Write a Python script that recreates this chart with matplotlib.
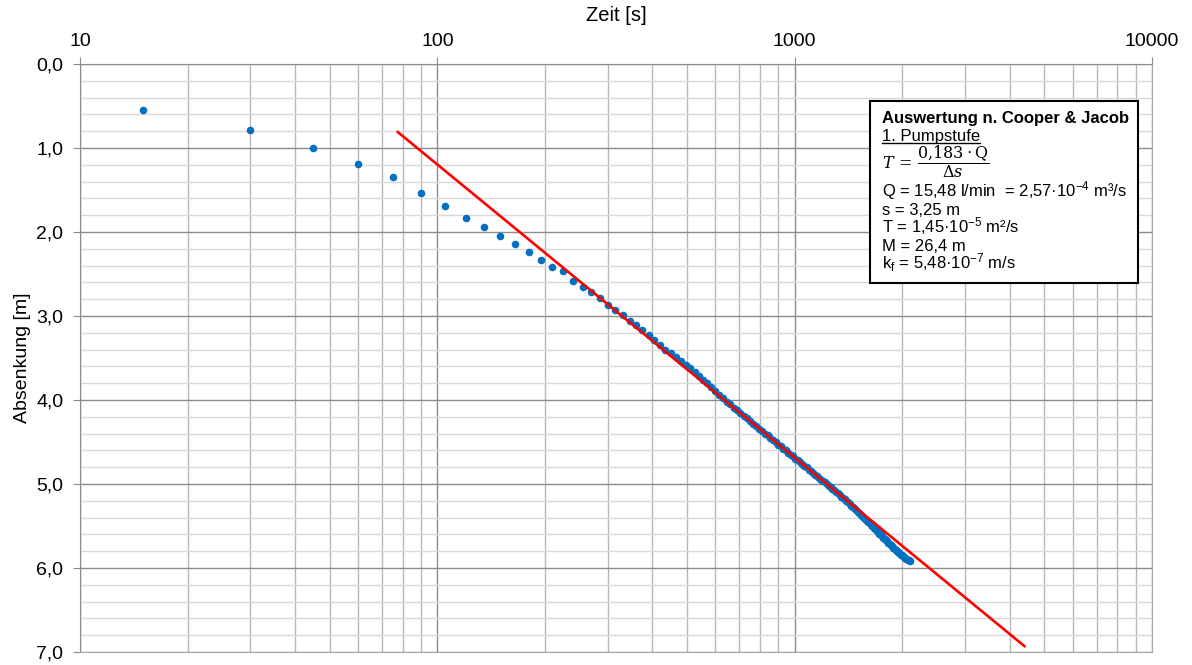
import numpy as np
import matplotlib
matplotlib.use("Agg")
import matplotlib.pyplot as plt
from matplotlib.ticker import FixedLocator, FuncFormatter, NullFormatter
from matplotlib.lines import Line2D

plt.rcParams['font.family'] = ['Liberation Sans', 'DejaVu Sans']
plt.rcParams['mathtext.fontset'] = 'custom'
plt.rcParams['mathtext.rm'] = 'Liberation Sans'
plt.rcParams['mathtext.it'] = 'Liberation Sans:italic'
plt.rcParams['mathtext.bf'] = 'Liberation Sans:bold'

# Messwerte: Zeit [s] und Absenkung [m], Ablesung alle 15 s
zeit = np.arange(15, 2101, 15)
absenkung = [
    0.55, 0.79, 1.00, 1.19, 1.35, 1.54, 1.69, 1.83, 1.94, 2.05,
    2.14, 2.24, 2.33, 2.42, 2.47, 2.58, 2.65, 2.72, 2.79, 2.87,
    2.93, 2.99, 3.06, 3.11, 3.17, 3.23, 3.29, 3.34, 3.40, 3.44,
    3.49, 3.54, 3.58, 3.62, 3.67, 3.71, 3.76, 3.80, 3.85, 3.89,
    3.94, 3.98, 4.02, 4.05, 4.09, 4.12, 4.16, 4.19, 4.22, 4.25,
    4.28, 4.31, 4.34, 4.37, 4.40, 4.42, 4.45, 4.48, 4.50, 4.53,
    4.55, 4.58, 4.60, 4.63, 4.65, 4.67, 4.70, 4.72, 4.74, 4.76,
    4.78, 4.80, 4.83, 4.85, 4.87, 4.89, 4.91, 4.93, 4.95, 4.96,
    4.98, 5.00, 5.02, 5.04, 5.06, 5.07, 5.09, 5.11, 5.13, 5.15,
    5.17, 5.18, 5.20, 5.22, 5.24, 5.26, 5.27, 5.29, 5.31, 5.33,
    5.35, 5.37, 5.38, 5.40, 5.42, 5.44, 5.45, 5.47, 5.49, 5.50,
    5.52, 5.54, 5.56, 5.57, 5.59, 5.60, 5.62, 5.64, 5.65, 5.67,
    5.68, 5.70, 5.71, 5.73, 5.74, 5.76, 5.77, 5.78, 5.80, 5.81,
    5.82, 5.84, 5.85, 5.86, 5.87, 5.88, 5.89, 5.90, 5.91, 5.92,
]

# Ausgleichsgerade (Cooper & Jacob), Endpunkte
gerade_t = [77.5, 4395]
gerade_s = [0.81, 6.93]

info_titel = "Auswertung n. Cooper & Jacob"
info_stufe = "1. Pumpstufe"
info_formel = r"$T\,=\,\dfrac{0{,}183\cdot\mathrm{Q}}{\Delta s}$"
info_zeilen = [
    "Q = 15,48 l/min  = 2,57·10$^{-4}$ m³/s",
    "s = 3,25 m",
    "T = 1,45·10$^{-5}$ m²/s",
    "M = 26,4 m",
    "k$_\\mathrm{f}$ = 5,48·10$^{-7}$ m/s",
]

fig = plt.figure(figsize=(11.92, 6.65), dpi=100)
ax = fig.add_axes([80 / 1192, 13 / 665, 1072 / 1192, 588 / 665])

ax.set_xscale('log')
ax.set_xlim(10, 10000)
ax.set_ylim(7, 0)

# Gitter
ax.xaxis.set_major_locator(FixedLocator([10, 100, 1000, 10000]))
ax.xaxis.set_minor_locator(FixedLocator(
    [m * d for d in (10, 100, 1000) for m in range(2, 10)]))
ax.xaxis.set_minor_formatter(NullFormatter())
ax.xaxis.set_major_formatter(FuncFormatter(lambda v, p: f"{v:.0f}"))
ax.yaxis.set_major_locator(FixedLocator(np.arange(0, 7.01, 1.0)))
ax.yaxis.set_minor_locator(FixedLocator(np.arange(0, 7.01, 0.2)))
ax.yaxis.set_major_formatter(FuncFormatter(lambda v, p: f"{v:.1f}".replace('.', ',')))

ax.grid(which='major', axis='x', color='#8c8c8c', lw=1.0)
ax.grid(which='minor', axis='x', color='#b8b8b8', lw=1.0)
ax.grid(which='major', axis='y', color='#8c8c8c', lw=1.0)
ax.grid(which='minor', axis='y', color='#d9d9d9', lw=1.0)
ax.set_axisbelow(True)

ax.xaxis.tick_top()
ax.xaxis.set_label_position('top')
ax.tick_params(which='major', length=5, color='#8c8c8c', labelsize=14, pad=5)
ax.tick_params(which='minor', length=0)
ax.tick_params(axis='y', pad=7)
for side in ('left', 'top'):
    ax.spines[side].set_color('#8c8c8c')
for side in ('right', 'bottom'):
    ax.spines[side].set_color('#a6a6a6')

ax.set_xlabel("Zeit [s]", fontsize=14.5, labelpad=9)
ax.set_ylabel("Absenkung [m]", fontsize=14, labelpad=4)

ax.scatter(zeit, absenkung, s=30, color='#0070C0', zorder=3, linewidths=0)
ax.plot(gerade_t, gerade_s, color='#FF0000', lw=1.9, zorder=4)

# Infobox
box = plt.Rectangle((0.737, 0.628), 0.250, 0.309, transform=ax.transAxes,
                    facecolor='white', edgecolor='black', lw=1.5, zorder=5)
ax.add_patch(box)
x0 = 0.748
ax.text(x0, 0.8997, info_titel, transform=ax.transAxes, fontsize=12,
        fontweight='bold', va='baseline', zorder=6)
stufe = ax.text(x0, 0.869, info_stufe, transform=ax.transAxes, fontsize=12,
                va='baseline', zorder=6)
ax.text(x0, 0.834, info_formel, transform=ax.transAxes, fontsize=11.5,
        va='center', zorder=6, math_fontfamily='dejavuserif')
y = 0.774
for zeile in info_zeilen:
    ax.text(x0, y, zeile, transform=ax.transAxes, fontsize=12,
            va='baseline', zorder=6)
    y -= 0.0306

# Unterstreichung der Pumpstufe
fig.canvas.draw()
bb = stufe.get_window_extent().transformed(ax.transAxes.inverted())
ax.add_line(Line2D([bb.x0, bb.x1], [bb.y0 + 0.001, bb.y0 + 0.001],
                   transform=ax.transAxes, color='black', lw=1.0, zorder=6))

fig.savefig("out.png", dpi=100)
